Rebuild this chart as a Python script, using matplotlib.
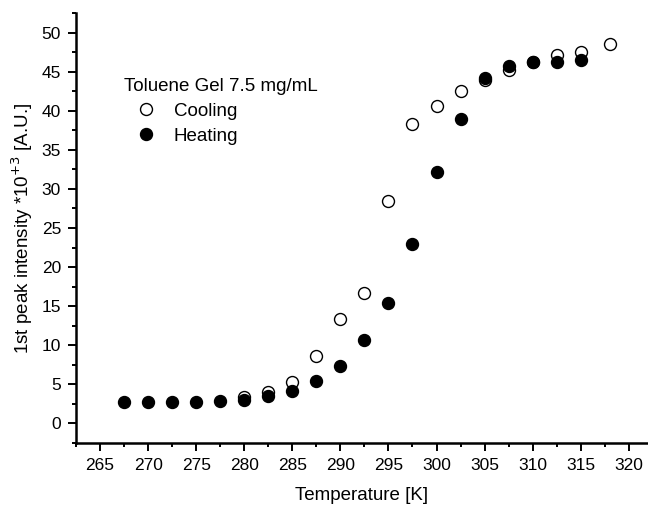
import numpy as np
import matplotlib
matplotlib.use("Agg")
import matplotlib.pyplot as plt
from matplotlib.ticker import MultipleLocator

plt.rcParams['font.family'] = ['Liberation Sans', 'DejaVu Sans']

# data
temp_heating = [267.5, 270, 272.5, 275, 277.5, 280, 282.5, 285, 287.5, 290,
                292.5, 295, 297.5, 300, 302.5, 305, 307.5, 310, 312.5, 315]
int_heating = [2.7, 2.75, 2.7, 2.75, 2.85, 3.0, 3.5, 4.1, 5.4, 7.3,
               10.6, 15.4, 23.0, 32.2, 39.0, 44.2, 45.7, 46.2, 46.3, 46.5]

temp_cooling = [280, 282.5, 285, 287.5, 290, 292.5, 295, 297.5, 300, 302.5,
                305, 307.5, 310, 312.5, 315, 318]
int_cooling = [3.4, 4.0, 5.3, 8.6, 13.4, 16.7, 28.4, 38.3, 40.6, 42.6,
               44.0, 45.3, 46.2, 47.2, 47.5, 48.6]

fig = plt.figure(figsize=(6.48, 5.08), dpi=100)
ax = fig.add_axes([0.1173, 0.1285, 1.0 - 0.1173, 0.8453])

ax.plot(temp_cooling, int_cooling, 'o', ms=8.6, mfc='white', mec='black',
        mew=1.0, label='Cooling')
ax.plot(temp_heating, int_heating, 'o', ms=8.6, mfc='black', mec='black',
        mew=1.0, label='Heating')

ax.set_xlim(262.5, 322)
ax.set_ylim(-2.5, 52.5)
ax.xaxis.set_major_locator(MultipleLocator(5))
ax.xaxis.set_minor_locator(MultipleLocator(2.5))
ax.yaxis.set_major_locator(MultipleLocator(5))
ax.yaxis.set_minor_locator(MultipleLocator(2.5))

ax.spines["top"].set_visible(False)
ax.spines["right"].set_visible(False)
ax.spines["left"].set_linewidth(1.8)
ax.spines["bottom"].set_linewidth(1.8)
ax.tick_params(which='major', direction='out', length=5.8, width=1.4,
               labelsize=12.5, pad=5)
ax.tick_params(which='minor', direction='out', length=3, width=1.4)

ax.set_xlabel("Temperature [K]", fontsize=13.5, labelpad=10)
ax.set_ylabel(r"1st peak intensity *10$^{+3}$ [A.U.]", fontsize=13.5, labelpad=5)

leg = ax.legend(title="Toluene Gel 7.5 mg/mL", loc='upper left',
                bbox_to_anchor=(0.0715, 0.867), frameon=False, fontsize=13.5,
                title_fontsize=13.5, handletextpad=0.38, labelspacing=0.42,
                borderaxespad=0, handlelength=2.25)
leg._legend_box.align = "left"

fig.savefig("out.png", dpi=100)
